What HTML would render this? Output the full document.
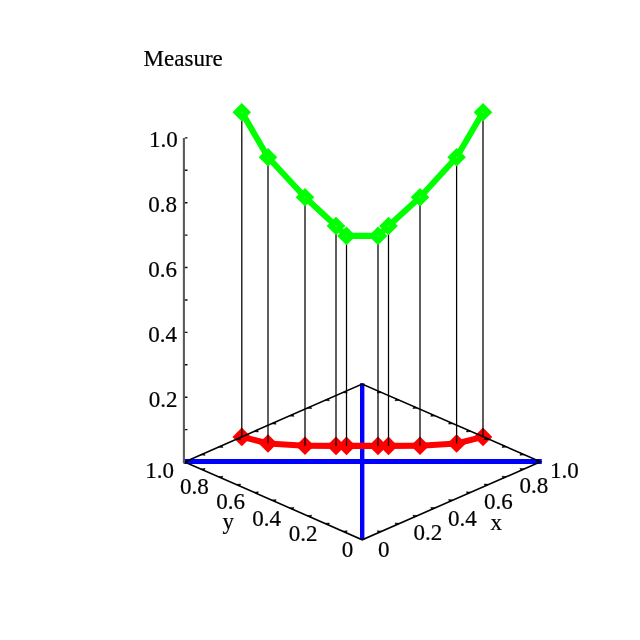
<!DOCTYPE html><html><head><meta charset="utf-8"><style>html,body{margin:0;padding:0;background:#fff;width:640px;height:640px;overflow:hidden}svg{display:block;will-change:transform}</style></head><body><svg width="640" height="640" viewBox="0 0 640 640">
<rect width="640" height="640" fill="#fff"/>
<line x1="184.0" y1="461.45" x2="541.75" y2="461.45" stroke="#0000ff" stroke-width="4.9"/>
<line x1="362.2" y1="383.2" x2="362.2" y2="539.8" stroke="#0000ff" stroke-width="4.4"/>
<polyline points="241.80,436.90 268.00,443.50 305.00,445.70 336.00,445.90 346.50,445.90 378.00,445.90 388.50,445.90 420.00,445.70 456.60,443.50 483.00,436.90" fill="none" stroke="#ff0000" stroke-width="6.1" stroke-linejoin="round"/>
<path d="M241.80 427.60L251.10 436.90L241.80 446.20L232.50 436.90Z" fill="#ff0000"/>
<path d="M268.00 434.20L277.30 443.50L268.00 452.80L258.70 443.50Z" fill="#ff0000"/>
<path d="M305.00 436.40L314.30 445.70L305.00 455.00L295.70 445.70Z" fill="#ff0000"/>
<path d="M336.00 436.60L345.30 445.90L336.00 455.20L326.70 445.90Z" fill="#ff0000"/>
<path d="M346.50 436.60L355.80 445.90L346.50 455.20L337.20 445.90Z" fill="#ff0000"/>
<path d="M378.00 436.60L387.30 445.90L378.00 455.20L368.70 445.90Z" fill="#ff0000"/>
<path d="M388.50 436.60L397.80 445.90L388.50 455.20L379.20 445.90Z" fill="#ff0000"/>
<path d="M420.00 436.40L429.30 445.70L420.00 455.00L410.70 445.70Z" fill="#ff0000"/>
<path d="M456.60 434.20L465.90 443.50L456.60 452.80L447.30 443.50Z" fill="#ff0000"/>
<path d="M483.00 427.60L492.30 436.90L483.00 446.20L473.70 436.90Z" fill="#ff0000"/>
<path d="M184.6 461.9L362.15 384.0L540.5 461.8L362.2 539.8Z" fill="none" stroke="#000" stroke-width="1.6" stroke-linejoin="miter"/>
<path d="M200.62 454.87L204.09 453.35L205.10 455.31ZM218.37 447.08L221.85 445.56L222.86 447.52ZM236.13 439.29L239.60 437.77L240.61 439.73ZM253.88 431.50L257.36 429.98L258.37 431.94ZM271.64 423.71L275.11 422.19L276.12 424.15ZM289.39 415.92L292.87 414.40L293.88 416.36ZM307.15 408.13L310.62 406.61L311.63 408.57ZM324.90 400.34L328.38 398.82L329.39 400.78ZM342.66 392.55L346.13 391.03L347.14 392.99ZM200.62 468.93L204.10 470.45L205.11 468.49ZM218.38 476.72L221.86 478.24L222.87 476.28ZM236.14 484.51L239.62 486.03L240.63 484.07ZM253.90 492.30L257.38 493.82L258.39 491.86ZM271.66 500.09L275.14 501.61L276.15 499.65ZM289.42 507.88L292.90 509.40L293.91 507.44ZM307.18 515.67L310.66 517.19L311.67 515.23ZM324.94 523.46L328.42 524.98L329.43 523.02ZM342.70 531.25L346.18 532.77L347.19 530.81ZM378.29 532.76L381.77 531.24L377.28 530.80ZM396.12 524.96L399.60 523.44L395.11 523.00ZM413.95 517.16L417.43 515.64L412.94 515.20ZM431.78 509.36L435.26 507.84L430.77 507.40ZM449.61 501.56L453.09 500.04L448.60 499.60ZM467.44 493.76L470.92 492.24L466.43 491.80ZM485.27 485.96L488.75 484.44L484.26 484.00ZM503.10 478.16L506.58 476.64L502.09 476.20ZM520.93 470.36L524.41 468.84L519.92 468.40ZM378.24 391.02L381.73 392.54L377.24 392.98ZM396.08 398.80L399.56 400.32L395.07 400.76ZM413.91 406.58L417.40 408.10L412.91 408.54ZM431.75 414.36L435.23 415.88L430.74 416.32ZM449.58 422.14L453.07 423.66L448.58 424.10ZM467.42 429.92L470.90 431.44L466.41 431.88ZM485.25 437.70L488.74 439.22L484.25 439.66ZM503.09 445.48L506.57 447.00L502.08 447.44ZM520.92 453.26L524.41 454.78L519.92 455.22Z" stroke="#000" stroke-width="0.6" fill="#000" stroke-linejoin="round"/>
<path d="M183.9 463.4V137.9" stroke="#5a5a5a" stroke-width="2.1" fill="none"/>
<path d="M184.90 429.59h2.6M184.90 397.18h2.6M184.90 364.77h2.6M184.90 332.36h2.6M184.90 299.95h2.6M184.90 267.54h2.6M184.90 235.13h2.6M184.90 202.72h2.6M184.90 170.31h2.6M184.90 137.90h2.6" stroke="#111" stroke-width="1.4" fill="none"/>
<path d="M241.80 112.30V436.90M268.00 157.20V443.50M305.00 197.30V445.70M336.00 226.00V445.90M346.50 235.90V445.90M378.00 235.90V445.90M388.50 226.00V445.90M420.00 197.30V445.70M456.60 157.20V443.50M483.00 112.30V436.90" stroke="#000" stroke-width="1.25" fill="none"/>
<polyline points="241.80,112.30 268.00,157.20 305.00,197.30 336.00,226.00 346.50,235.90 378.00,235.90 388.50,226.00 420.00,197.30 456.60,157.20 483.00,112.30" fill="none" stroke="#00ff00" stroke-width="6.1" stroke-linejoin="round"/>
<path d="M241.80 103.00L251.10 112.30L241.80 121.60L232.50 112.30Z" fill="#00ff00"/>
<path d="M268.00 147.90L277.30 157.20L268.00 166.50L258.70 157.20Z" fill="#00ff00"/>
<path d="M305.00 188.00L314.30 197.30L305.00 206.60L295.70 197.30Z" fill="#00ff00"/>
<path d="M336.00 216.70L345.30 226.00L336.00 235.30L326.70 226.00Z" fill="#00ff00"/>
<path d="M346.50 226.60L355.80 235.90L346.50 245.20L337.20 235.90Z" fill="#00ff00"/>
<path d="M378.00 226.60L387.30 235.90L378.00 245.20L368.70 235.90Z" fill="#00ff00"/>
<path d="M388.50 216.70L397.80 226.00L388.50 235.30L379.20 226.00Z" fill="#00ff00"/>
<path d="M420.00 188.00L429.30 197.30L420.00 206.60L410.70 197.30Z" fill="#00ff00"/>
<path d="M456.60 147.90L465.90 157.20L456.60 166.50L447.30 157.20Z" fill="#00ff00"/>
<path d="M483.00 103.00L492.30 112.30L483.00 121.60L473.70 112.30Z" fill="#00ff00"/>
<circle cx="241.80" cy="112.30" r="0.75" fill="#50ff50"/>
<circle cx="268.00" cy="157.20" r="0.75" fill="#50ff50"/>
<circle cx="305.00" cy="197.30" r="0.75" fill="#50ff50"/>
<circle cx="336.00" cy="226.00" r="0.75" fill="#50ff50"/>
<circle cx="346.50" cy="235.90" r="0.75" fill="#50ff50"/>
<circle cx="378.00" cy="235.90" r="0.75" fill="#50ff50"/>
<circle cx="388.50" cy="226.00" r="0.75" fill="#50ff50"/>
<circle cx="420.00" cy="197.30" r="0.75" fill="#50ff50"/>
<circle cx="456.60" cy="157.20" r="0.75" fill="#50ff50"/>
<circle cx="483.00" cy="112.30" r="0.75" fill="#50ff50"/>
<g font-family="Liberation Serif, serif" font-size="23" fill="#000" stroke="#000" stroke-width="0.2"><text x="183.20" y="66.03" text-anchor="middle">Measure</text><text x="163.25" y="147.07" text-anchor="middle">1.0</text><text x="162.50" y="212.00" text-anchor="middle">0.8</text><text x="162.50" y="277.10" text-anchor="middle">0.6</text><text x="162.70" y="341.80" text-anchor="middle">0.4</text><text x="163.00" y="406.90" text-anchor="middle">0.2</text><text x="159.65" y="478.10" text-anchor="middle">1.0</text><text x="194.25" y="494.45" text-anchor="middle">0.8</text><text x="230.50" y="509.00" text-anchor="middle">0.6</text><text x="228.35" y="529.45" text-anchor="middle">y</text><text x="266.50" y="525.70" text-anchor="middle">0.4</text><text x="303.05" y="541.00" text-anchor="middle">0.2</text><text x="347.50" y="556.90" text-anchor="middle">0</text><text x="383.80" y="556.60" text-anchor="middle">0</text><text x="427.90" y="540.25" text-anchor="middle">0.2</text><text x="462.45" y="525.70" text-anchor="middle">0.4</text><text x="496.15" y="529.80" text-anchor="middle">x</text><text x="498.35" y="509.05" text-anchor="middle">0.6</text><text x="533.95" y="493.35" text-anchor="middle">0.8</text><text x="564.33" y="477.75" text-anchor="middle">1.0</text></g>
</svg></body></html>
